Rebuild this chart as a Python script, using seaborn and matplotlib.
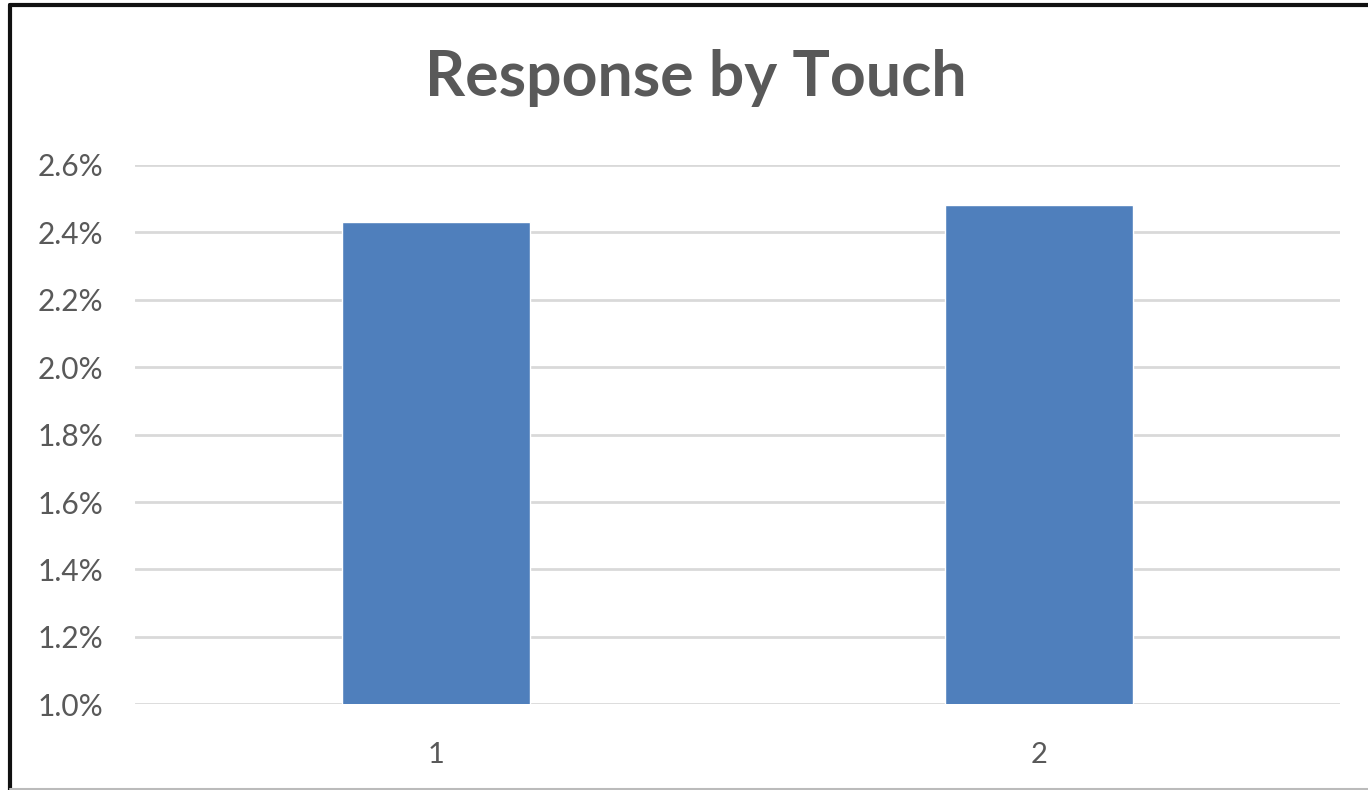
import matplotlib
matplotlib.use("Agg")
import matplotlib.pyplot as plt
import seaborn as sns
import pandas as pd
from matplotlib.ticker import FuncFormatter, FixedLocator
from matplotlib.lines import Line2D

# ---- data ----
categories = ["1", "2"]
response_rate = [0.0243, 0.0248]
y_ticks = [0.010, 0.012, 0.014, 0.016, 0.018, 0.020, 0.022, 0.024, 0.026]
title = "Response by Touch"

df = pd.DataFrame({"touch": categories, "rate": response_rate})

sns.set_theme(style="white")
plt.rcParams["font.family"] = ["Lato", "DejaVu Sans"]

W, H = 1368, 790
fig = plt.figure(figsize=(W / 100, H / 100), dpi=100)
fig.patch.set_facecolor("white")

left, right = 135 / W, 1340 / W
bottom, top = (H - 704.3) / H, (H - 165) / H
ax = fig.add_axes([left, bottom, right - left, top - bottom])

sns.barplot(data=df, x="touch", y="rate", color="#4F7FBC", width=0.312,
            saturation=1, ax=ax, zorder=3)

ax.set_ylim(y_ticks[0], y_ticks[-1])
ax.set_xlim(-0.5, 1.5)
ax.yaxis.set_major_locator(FixedLocator(y_ticks))
ax.yaxis.set_major_formatter(FuncFormatter(lambda v, p: f"{v*100:.1f}%"))
ax.grid(axis="y", color="#D9D9D9", linewidth=2, zorder=0)
ax.set_axisbelow(True)
for s in ax.spines.values():
    s.set_visible(False)
ax.set_xlabel("")
ax.set_ylabel("")
ax.tick_params(axis="y", labelsize=21.5, colors="#595959", length=0, pad=23)
ax.tick_params(axis="x", labelsize=21, colors="#595959", length=0, pad=27)

fig.text(696 / W, (H - 78) / H, title, ha="center", va="center",
         fontsize=45, fontweight="bold", color="#595959")

# outer frame
fig.add_artist(Line2D([10 / W, 10 / W], [0, (H - 5) / H], transform=fig.transFigure,
                      color="#111111", linewidth=3))
fig.add_artist(Line2D([10 / W, 1], [(H - 5) / H, (H - 5) / H], transform=fig.transFigure,
                      color="#111111", linewidth=3))
fig.add_artist(Line2D([10 / W, 1], [1.5 / H, 1.5 / H], transform=fig.transFigure,
                      color="#BBBBBB", linewidth=1.5))

fig.savefig("out.png", dpi=100)
